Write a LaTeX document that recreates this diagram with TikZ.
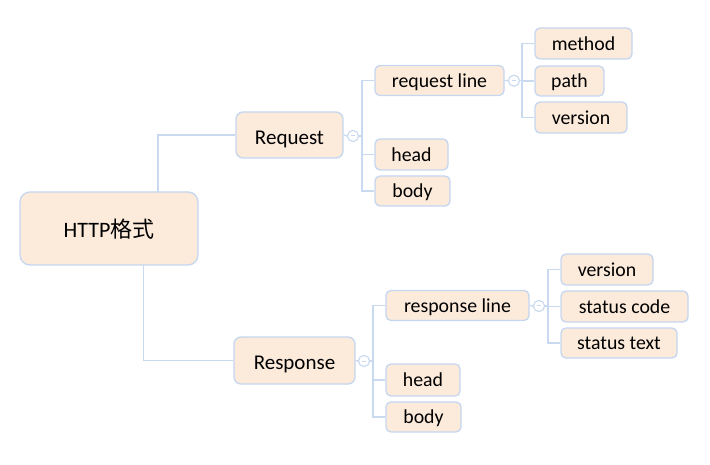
\documentclass[tikz,border=0pt]{standalone}
\usepackage{fontspec}
\setmainfont{Carlito}
\newfontfamily\cjk{Noto Sans CJK SC}
\definecolor{boxfill}{HTML}{FCEADB}
\definecolor{boxline}{HTML}{C4D6F0}
\definecolor{conn}{HTML}{C9D9EF}
\definecolor{txt}{HTML}{000000}
\tikzset{
  basebox/.style={draw=boxline, fill=boxfill, line width=1.3pt, inner sep=0pt, text=txt, anchor=center},
  rootbox/.style={basebox, rounded corners=10pt, font=\fontsize{22}{26}\selectfont, text height=18pt, text depth=0pt},
  lvlbox/.style={basebox, rounded corners=7pt, font=\fontsize{21}{25}\selectfont, text height=18.5pt, text depth=0pt},
  leafbox/.style={basebox, rounded corners=5pt, font=\fontsize{19.8}{23}\selectfont, text height=14.5pt, text depth=1pt},
  link/.style={draw=conn, line width=1.3pt},
  fold/.style={circle, draw=conn, fill=white, line width=1pt, minimum size=11pt, inner sep=0pt},
}
\newcommand{\foldmark}[1]{\draw[conn, line width=1pt] ([xshift=-2.2pt]#1.center) -- ([xshift=2.2pt]#1.center);}
\begin{document}
\begin{tikzpicture}[x=1pt,y=-1pt]
\useasboundingbox (0,0) rectangle (710,465);
% nodes
\node[rootbox, minimum width=178pt, minimum height=73pt] (root) at (109,228.5) {HTTP{\cjk 格式}};
\node[lvlbox, minimum width=107pt, minimum height=46pt] (req) at (289.5,135) {Request};
\node[lvlbox, minimum width=121pt, minimum height=47pt] (res) at (294.5,360.5) {Response};

\node[leafbox, minimum width=129pt, minimum height=30pt] (rql) at (439.5,80.5) {request line};
\node[leafbox, minimum width=73pt, minimum height=31pt] (rqh) at (411.5,154.5) {head};
\node[leafbox, minimum width=75pt, minimum height=30pt] (rqb) at (412.5,191) {body};

\node[leafbox, minimum width=97pt, minimum height=31pt] (meth) at (583.5,43.5) {method};
\node[leafbox, minimum width=69pt, minimum height=30pt] (path) at (569.5,81) {path};
\node[leafbox, minimum width=92pt, minimum height=31pt] (rqv) at (581,117.5) {version};

\node[leafbox, minimum width=143pt, minimum height=30pt] (rsl) at (457.5,305.5) {response line};
\node[leafbox, minimum width=74pt, minimum height=32pt] (rsh) at (423,380) {head};
\node[leafbox, minimum width=75pt, minimum height=30pt] (rsb) at (423.5,417) {body};

\node[leafbox, minimum width=92pt, minimum height=31pt] (rsv) at (607,269.5) {version};
\node[leafbox, minimum width=127pt, minimum height=31pt] (code) at (624.5,306.5) {status code};
\node[leafbox, minimum width=116pt, minimum height=30pt] (stxt) at (619,343) {status text};

% fold circles
\node[fold] (f1) at (353,136) {};
\node[fold] (f2) at (514,80.7) {};
\node[fold] (f3) at (364,361) {};
\node[fold] (f4) at (539,306) {};

% trunk coordinates
\coordinate (t1) at (362,136);
\coordinate (t2) at (522,80.7);
\coordinate (t3) at (373,361);
\coordinate (t4) at (548,306);
\coordinate (rtop) at (158,192);
\coordinate (rbot) at (143.3,265);

% root connectors
\draw[link] (rtop) |- (req.west);
\draw[link] (rbot) |- (res.west);

% request
\draw[link] (req.east) -- (f1.west);
\draw[link] (f1.east) -- (t1);
\draw[link] (rql.west) -| (t1) |- (rqb.west);
\draw[link] (rqh.west) -- (rqh.west -| t1);

\draw[link] (rql.east) -- (f2.west);
\draw[link] (f2.east) -- (t2);
\draw[link] (meth.west) -| (t2) |- (rqv.west);
\draw[link] (path.west) -- (path.west -| t2);

% response
\draw[link] (res.east) -- (f3.west);
\draw[link] (f3.east) -- (t3);
\draw[link] (rsl.west) -| (t3) |- (rsb.west);
\draw[link] (rsh.west) -- (rsh.west -| t3);

\draw[link] (rsl.east) -- (f4.west);
\draw[link] (f4.east) -- (t4);
\draw[link] (rsv.west) -| (t4) |- (stxt.west);
\draw[link] (code.west) -- (code.west -| t4);

% redraw fold circles on top
\node[fold] at (f1) {};
\node[fold] at (f2) {};
\node[fold] at (f3) {};
\node[fold] at (f4) {};
\foldmark{f1}
\foldmark{f2}
\foldmark{f3}
\foldmark{f4}
\end{tikzpicture}
\end{document}
